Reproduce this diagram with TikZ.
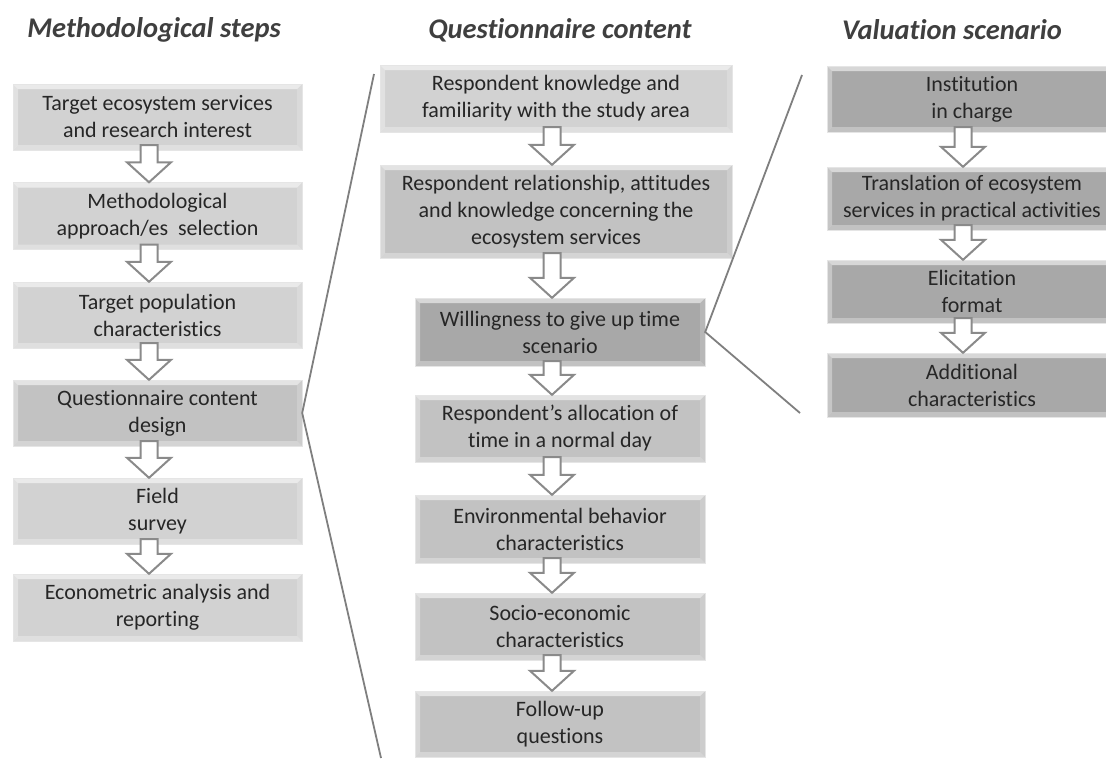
\documentclass[tikz,border=0pt]{standalone}
\usepackage{fontspec}
\setmainfont[Ligatures=NoCommon]{Carlito}
\usetikzlibrary{calc}
\definecolor{boxlight}{HTML}{D2D2D2}
\definecolor{boxmid}{HTML}{C2C2C2}
\definecolor{boxdark}{HTML}{A8A8A8}
\definecolor{fangray}{HTML}{7F7F7F}
\definecolor{arrowgray}{HTML}{8A8A8A}
\definecolor{titlegray}{HTML}{3F3F3F}
\tikzset{
  stepbox/.style={draw=black!10, fill=#1, inner sep=0pt, align=center,
                  font=\fontsize{22}{27}\selectfont, text=black!85,
                  path picture={
                    \coordinate (nw) at (path picture bounding box.north west);
                    \coordinate (ne) at (path picture bounding box.north east);
                    \coordinate (sw) at (path picture bounding box.south west);
                    \coordinate (se) at (path picture bounding box.south east);
                    \fill[white, opacity=.55] (nw) -- (ne) -- ([shift={(-5pt,-5pt)}]ne) -- ([shift={(5pt,-5pt)}]nw) -- cycle;
                    \fill[white, opacity=.35] (nw) -- ([shift={(5pt,-5pt)}]nw) -- ([shift={(5pt,5pt)}]sw) -- (sw) -- cycle;
                    \fill[white, opacity=.3] (sw) -- (se) -- ([shift={(-5pt,5pt)}]se) -- ([shift={(5pt,5pt)}]sw) -- cycle;
                    \fill[white, opacity=.18] (ne) -- (se) -- ([shift={(-5pt,5pt)}]se) -- ([shift={(-5pt,-5pt)}]ne) -- cycle;
                  }},
  stepbox/.default=boxlight,
  coltitle/.style={font=\fontsize{28.5}{32}\selectfont\bfseries\itshape, text=titlegray},
  hollowarrow/.style={draw=arrowgray, line width=2pt, fill=white, line join=miter},
  fanline/.style={draw=fangray, line width=1.8pt},
}
% hollow block arrow between two boxes, at a given x
\newcommand{\flowarrow}[3]{%
  \draw[hollowarrow] let \p3=(#1,0), \p1=(#2.south), \p2=(#3.north) in
    (\x3-8.5pt,\y1+5pt) -- (\x3+8.5pt,\y1+5pt) -- (\x3+8.5pt,\y2+20pt) -- (\x3+22pt,\y2+20pt)
    -- (\x3,\y2) -- (\x3-22pt,\y2+20pt) -- (\x3-8.5pt,\y2+20pt) -- cycle;}

\begin{document}
\begin{tikzpicture}[x=1pt, y=-1pt]
    \useasboundingbox (0,0) rectangle (1106,758);
    % column titles
    \node[coltitle] (t1) at (154,30) {Methodological steps};
    \node[coltitle] (t2) at (560,30) {Questionnaire content};
    \node[coltitle] (t3) at (952,30) {Valuation scenario};
    % methodological steps
    \node[stepbox, minimum width=289pt, minimum height=66pt] (m1) at (157.5,117) {Target ecosystem services\\ and research interest};
    \node[stepbox, minimum width=289pt, minimum height=67pt] (m2) at (157.5,216) {Methodological\\ approach/es\ \ selection};
    \node[stepbox, minimum width=289pt, minimum height=66pt] (m3) at (157.5,315) {Target population\\ characteristics};
    \node[stepbox=boxmid, minimum width=289pt, minimum height=66pt] (m4) at (157.5,413) {Questionnaire content\\ design};
    \node[stepbox, minimum width=289pt, minimum height=66pt] (m5) at (157.5,511) {Field\\ survey};
    \node[stepbox, minimum width=289pt, minimum height=67pt] (m6) at (157.5,607.5) {Econometric analysis and\\ reporting};
    % questionnaire content
    \node[stepbox, minimum width=352pt, minimum height=67pt] (q1) at (556,98.5) {Respondent knowledge and\\ familiarity with the study area};
    \node[stepbox=boxmid, minimum width=352pt, minimum height=93pt] (q2) at (556,211.5) {Respondent relationship, attitudes\\ and knowledge concerning the\\ ecosystem services};
    \node[stepbox=boxdark, minimum width=290pt, minimum height=68pt] (q3) at (560,332) {Willingness to give up time\\ scenario};
    \node[stepbox=boxmid, minimum width=290pt, minimum height=67pt] (q4) at (560,428.5) {Respondent’s allocation of\\ time in a normal day};
    \node[stepbox=boxmid, minimum width=290pt, minimum height=68pt] (q5) at (560,529) {Environmental behavior\\ characteristics};
    \node[stepbox=boxmid, minimum width=290pt, minimum height=67pt] (q6) at (560,626.5) {Socio-economic\\ characteristics};
    \node[stepbox=boxmid, minimum width=290pt, minimum height=66pt] (q7) at (560,724) {Follow-up\\ questions};
    % valuation scenario
    \node[stepbox=boxdark, minimum width=290pt, minimum height=66pt] (v1) at (972,99) {Institution\\ in charge};
    \node[stepbox=boxdark, minimum width=290pt, minimum height=63pt] (v2) at (972,198.5) {Translation of ecosystem\\ services in practical activities};
    \node[stepbox=boxdark, minimum width=290pt, minimum height=63pt] (v3) at (972,291.5) {Elicitation\\ format};
    \node[stepbox=boxdark, minimum width=290pt, minimum height=64pt] (v4) at (972,385) {Additional\\ characteristics};
    % arrows
    \flowarrow{149}{m1}{m2}
    \flowarrow{149}{m2}{m3}
    \flowarrow{149}{m3}{m4}
    \flowarrow{149}{m4}{m5}
    \flowarrow{149}{m5}{m6}
    \flowarrow{552}{q1}{q2}
    \flowarrow{552}{q2}{q3}
    \flowarrow{552}{q3}{q4}
    \flowarrow{552}{q4}{q5}
    \flowarrow{552}{q5}{q6}
    \flowarrow{552}{q6}{q7}
    \flowarrow{963}{v1}{v2}
    \flowarrow{963}{v2}{v3}
    \flowarrow{963}{v3}{v4}
    % zoom lines
    \coordinate (qtop) at (374,74);
    \coordinate (qbot) at (381,758);
    \coordinate (vtop) at (802,75);
    \coordinate (vbot) at (800,413);
    \draw[fanline] (qtop) -- (m4.east) -- (qbot);
    \draw[fanline] (vtop) -- (q3.east) -- (vbot);
\end{tikzpicture}
\end{document}
